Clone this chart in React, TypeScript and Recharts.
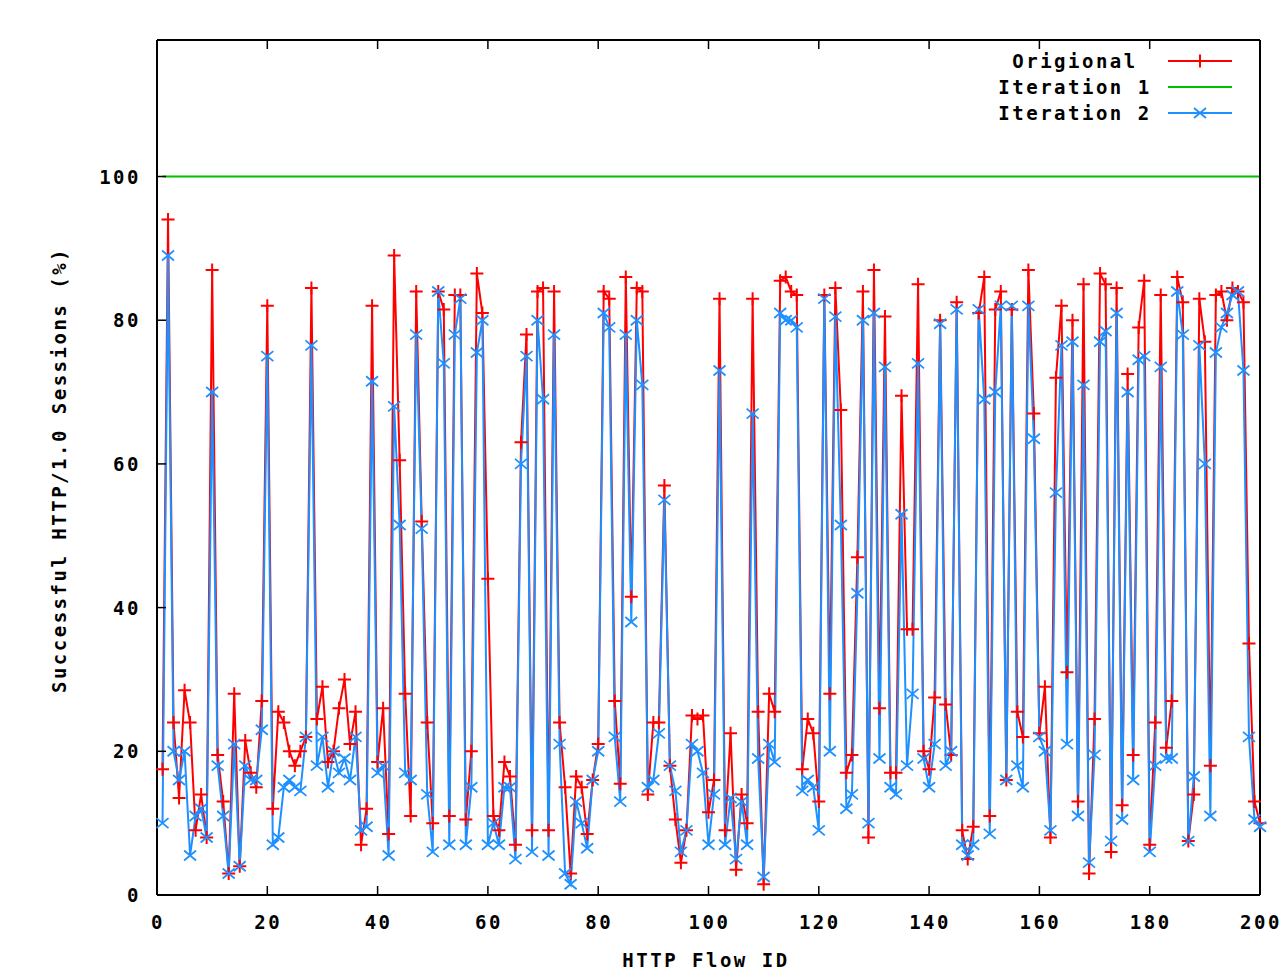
import React from 'react'
import { LineChart, Line, XAxis, YAxis, Legend, Label } from 'recharts'

// HTTP flow ids 1..200
const flowIds = Array.from({ length: 200 }, (_, i) => i + 1)

const original = [
  17.5, 94, 24, 13.5, 28.5, 24, 9, 14, 8, 87,
  19.5, 13, 3, 28, 4, 21.5, 17, 15, 27, 82,
  12, 25.5, 24, 20, 18, 20, 22, 84.5, 24.5, 29,
  18.5, 20, 26, 30, 21, 25.5, 7, 12, 82, 18.5,
  26, 8.5, 89, 60.5, 28, 11, 84, 52, 24, 10,
  84, 81.5, 11, 83.5, 83.5, 10.5, 20, 86.5, 81, 44,
  11, 9, 18.5, 16.5, 7, 63, 78, 9, 84, 84.5,
  9, 84, 24, 15, 3, 16.5, 15, 8.5, 16, 21,
  84, 83, 27, 15.5, 86, 41.5, 84.5, 84, 14, 24,
  24, 57, 18, 10.5, 4.5, 9, 25, 24.5, 25, 11.5,
  16, 83, 9, 22.5, 3.5, 14, 10, 83, 25.5, 1.5,
  28, 25.5, 85.5, 86, 84, 83.5, 17.5, 24.5, 22.5, 13,
  83.5, 28, 84.5, 67.5, 17, 19.5, 47, 84, 8, 87,
  26, 80.5, 17, 17, 69.5, 37, 37, 85, 20, 17.5,
  27.5, 80, 26.5, 19.5, 82.5, 9, 5, 9.5, 81, 86,
  11, 81.5, 84, 16, 81.5, 25.5, 22, 87, 67, 22.5,
  29, 8, 72, 82, 31, 80, 13, 85, 3, 24.5,
  86.5, 85, 6, 84.5, 12.5, 72.5, 19.5, 79, 85.5, 7,
  24, 83.5, 20.5, 27, 86, 82.5, 7.5, 14, 83, 77,
  18, 83.5, 84, 80, 84.5, 84, 82.5, 35, 13, 10,
]

const ITERATION_1 = 100

const iteration2 = [
  10, 89, 20, 16, 20, 5.5, 11, 12, 8, 70,
  18, 11, 3, 21, 4, 18, 16, 16, 23, 75,
  7, 8, 15, 16, 15, 14.5, 22, 76.5, 18, 22,
  15, 20, 17, 19, 16, 22, 9, 9.5, 71.5, 17,
  18, 5.5, 68, 51.5, 17, 16, 78, 51, 14, 6,
  84, 74, 7, 78, 83, 7, 15, 75.5, 80, 7,
  10, 7, 15, 15, 5, 60, 75, 6, 80, 69,
  5.5, 78, 21, 3, 1.5, 13, 10, 6.5, 16, 20,
  81, 79, 22, 13, 78, 38, 80, 71, 15, 16,
  22.5, 55, 18, 14.5, 6, 9, 21, 20, 17, 7,
  14, 73, 7, 13.5, 5, 13, 7, 67, 19, 2.5,
  21, 18.5, 81, 80, 80, 79, 14.5, 16, 15, 9,
  83, 20, 80.5, 51.5, 12, 14, 42, 80, 10, 81,
  19, 73.5, 15, 14, 53, 18, 28, 74, 19, 15,
  21, 79.5, 18, 20, 81.5, 7, 5.5, 7, 81.5, 69,
  8.5, 70, 82, 16, 82, 18, 15, 82, 63.5, 22,
  20, 9, 56, 76.5, 21, 77, 11, 71, 4.5, 19.5,
  77, 78.5, 7.5, 81, 10.5, 70, 16, 74.5, 75, 6,
  18, 73.5, 19, 19, 84, 78, 7.5, 16.5, 76.5, 60,
  11, 75.5, 79, 81, 83.5, 84, 73, 22, 10.5, 9.5,
]

const xTicks = [0, 20, 40, 60, 80, 100, 120, 140, 160, 180, 200]
const yTicks = [0, 20, 40, 60, 80, 100]

const RED = '#ff0000'
const GREEN = '#00c000'
const BLUE = '#1e90ff'
const FONT = '"DejaVu Sans Mono", monospace'

const data = flowIds.map((id, i) => ({
  id,
  original: original[i],
  iter1: ITERATION_1,
  iter2: iteration2[i],
}))

const textStyle = {
  fontFamily: FONT,
  fontWeight: 700,
  fontSize: 19,
  letterSpacing: 2.5,
  fill: '#000',
}

const TICK_LEN = 9

const BottomTick = (props: any) => {
  const { x, y, payload } = props
  return (
    <g>
      <line x1={x} y1={y} x2={x} y2={y - TICK_LEN} stroke="#000" strokeWidth={1.5} />
      <text x={x + 1} y={y + 34} textAnchor="middle" style={textStyle}>{payload.value}</text>
    </g>
  )
}

const TopTick = (props: any) => {
  const { x, y } = props
  return <line x1={x} y1={y} x2={x} y2={y + TICK_LEN} stroke="#000" strokeWidth={1.5} />
}

const LeftTick = (props: any) => {
  const { x, y, payload } = props
  return (
    <g>
      <line x1={x} y1={y} x2={x + TICK_LEN} y2={y} stroke="#000" strokeWidth={1.5} />
      <text x={x - 16} y={y + 7} textAnchor="end" style={textStyle}>{payload.value}</text>
    </g>
  )
}

const RightTick = (props: any) => {
  const { x, y } = props
  return <line x1={x} y1={y} x2={x - TICK_LEN} y2={y} stroke="#000" strokeWidth={1.5} />
}

const plusDot = (props: any) => {
  const { cx, cy, index } = props
  if (cx == null || cy == null) return <g key={`p-${index}`} />
  return (
    <path
      key={`p-${index}`}
      d={`M${cx - 6.5},${cy}H${cx + 6.5}M${cx},${cy - 6.5}V${cy + 6.5}`}
      stroke={RED}
      strokeWidth={2}
      fill="none"
    />
  )
}

const crossDot = (props: any) => {
  const { cx, cy, index } = props
  if (cx == null || cy == null) return <g key={`x-${index}`} />
  return (
    <path
      key={`x-${index}`}
      d={`M${cx - 6},${cy - 5}L${cx + 6},${cy + 5}M${cx - 6},${cy + 5}L${cx + 6},${cy - 5}`}
      stroke={BLUE}
      strokeWidth={1.8}
      fill="none"
    />
  )
}

const LegendBox = () => (
  <svg width={280} height={90} style={{ overflow: 'visible' }}>
    <text x={95} y={23} textAnchor="middle" style={textStyle}>Origional</text>
    <line x1={188} y1={16} x2={252} y2={16} stroke={RED} strokeWidth={2} />
    <path d="M213.5,16H226.5M220,9.5V22.5" stroke={RED} strokeWidth={2} />
    <text x={95} y={49} textAnchor="middle" style={textStyle}>Iteration 1</text>
    <line x1={188} y1={42} x2={252} y2={42} stroke={GREEN} strokeWidth={2} />
    <text x={95} y={75} textAnchor="middle" style={textStyle}>Iteration 2</text>
    <line x1={188} y1={68} x2={252} y2={68} stroke={BLUE} strokeWidth={2} />
    <path d="M214,63L226,73M214,73L226,63" stroke={BLUE} strokeWidth={1.8} />
  </svg>
)

export default function App() {
  return (
    <div style={{ position: 'absolute', left: 0, top: 0, width: 1285, height: 970, background: '#fff' }}>
      <LineChart
        width={1285}
        height={970}
        data={data}
        margin={{ top: 39, right: 24, bottom: 45, left: 57 }}
      >
        <XAxis
          xAxisId="bottom"
          dataKey="id"
          type="number"
          domain={[0, 200]}
          ticks={xTicks}
          height={30}
          tickSize={0}
          tickMargin={0}
          axisLine={{ stroke: '#000', strokeWidth: 2 }}
          tickLine={false}
          tick={<BottomTick />}
        >
          <Label
            content={() => (
              <text x={706} y={967} textAnchor="middle" style={textStyle}>HTTP Flow ID</text>
            )}
          />
        </XAxis>
        <XAxis
          xAxisId="top"
          orientation="top"
          dataKey="id"
          type="number"
          domain={[0, 200]}
          ticks={xTicks}
          height={1}
          tickSize={0}
          tickMargin={0}
          axisLine={{ stroke: '#000', strokeWidth: 2 }}
          tickLine={false}
          tick={<TopTick />}
        />
        <YAxis
          yAxisId="left"
          type="number"
          domain={[0, 119]}
          ticks={yTicks}
          width={100}
          tickSize={0}
          tickMargin={0}
          axisLine={{ stroke: '#000', strokeWidth: 2 }}
          tickLine={false}
          tick={<LeftTick />}
        >
          <Label
            content={() => (
              <text
                x={66}
                y={470}
                textAnchor="middle"
                transform="rotate(-90 66 470)"
                style={textStyle}
              >
                Successful HTTP/1.0 Sessions (%)
              </text>
            )}
          />
        </YAxis>
        <YAxis
          yAxisId="right"
          orientation="right"
          type="number"
          domain={[0, 119]}
          ticks={yTicks}
          width={1}
          tickSize={0}
          tickMargin={0}
          axisLine={{ stroke: '#000', strokeWidth: 2 }}
          tickLine={false}
          tick={<RightTick />}
        />
        <Legend
          layout="vertical"
          align="center"
          verticalAlign="middle"
          content={<LegendBox />}
          wrapperStyle={{ left: 980, top: 45, width: 280, height: 90 }}
        />
        <Line
          xAxisId="bottom"
          yAxisId="left"
          dataKey="original"
          type="linear"
          stroke={RED}
          strokeWidth={2}
          dot={plusDot}
          activeDot={false}
          isAnimationActive={false}
        />
        <Line
          xAxisId="bottom"
          yAxisId="left"
          dataKey="iter1"
          type="linear"
          stroke={GREEN}
          strokeWidth={2}
          dot={false}
          activeDot={false}
          isAnimationActive={false}
        />
        <Line
          xAxisId="bottom"
          yAxisId="left"
          dataKey="iter2"
          type="linear"
          stroke={BLUE}
          strokeWidth={2}
          dot={crossDot}
          activeDot={false}
          isAnimationActive={false}
        />
      </LineChart>
    </div>
  )
}
